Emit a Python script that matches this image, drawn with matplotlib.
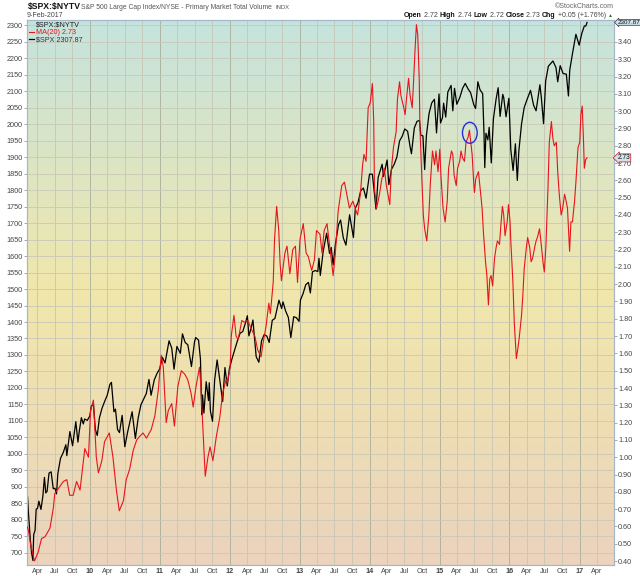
import matplotlib
matplotlib.use("Agg")
import matplotlib.pyplot as plt
import matplotlib.dates as mdates
from matplotlib.colors import LinearSegmentedColormap
from matplotlib.lines import Line2D
from matplotlib.patches import Ellipse
import numpy as np
import pandas as pd

plt.rcParams['font.family'] = ['Liberation Sans', 'DejaVu Sans']

# --- data ---
spx_dates = [
    '2009-02-09', '2009-02-13', '2009-02-23', '2009-03-02', '2009-03-09', '2009-03-13', '2009-03-20',
    '2009-03-26', '2009-04-02', '2009-04-09', '2009-04-20', '2009-04-30', '2009-05-08', '2009-05-15',
    '2009-05-22', '2009-06-01', '2009-06-12', '2009-06-23', '2009-07-02', '2009-07-10', '2009-07-17',
    '2009-07-31', '2009-08-14', '2009-08-28', '2009-09-02', '2009-09-18', '2009-10-02', '2009-10-19',
    '2009-10-30', '2009-11-06', '2009-11-17', '2009-11-27', '2009-12-04', '2009-12-18', '2009-12-31',
    '2010-01-08', '2010-01-19', '2010-01-29', '2010-02-08', '2010-02-19', '2010-03-05', '2010-03-19',
    '2010-04-01', '2010-04-15', '2010-04-23', '2010-05-06', '2010-05-14', '2010-05-25', '2010-06-04',
    '2010-06-18', '2010-07-02', '2010-07-16', '2010-07-30', '2010-08-09', '2010-08-26', '2010-09-10',
    '2010-09-24', '2010-10-08', '2010-10-22', '2010-11-05', '2010-11-16', '2010-12-03', '2010-12-17',
    '2010-12-31', '2011-01-14', '2011-01-28', '2011-02-18', '2011-03-04', '2011-03-16', '2011-03-31',
    '2011-04-18', '2011-04-29', '2011-05-13', '2011-05-27', '2011-06-15', '2011-07-01', '2011-07-07',
    '2011-07-22', '2011-08-01', '2011-08-08', '2011-08-12', '2011-08-19', '2011-08-31', '2011-09-12',
    '2011-09-16', '2011-09-22', '2011-10-03', '2011-10-14', '2011-10-27', '2011-11-09', '2011-11-25',
    '2011-12-07', '2011-12-19', '2011-12-30', '2012-01-13', '2012-01-27', '2012-02-10', '2012-02-24',
    '2012-03-09', '2012-03-23', '2012-04-02', '2012-04-10', '2012-04-20', '2012-05-01', '2012-05-18',
    '2012-06-01', '2012-06-15', '2012-06-29', '2012-07-13', '2012-07-25', '2012-08-10', '2012-08-24',
    '2012-09-14', '2012-09-28', '2012-10-05', '2012-10-19', '2012-11-02', '2012-11-15', '2012-11-30',
    '2012-12-14', '2012-12-28', '2013-01-04', '2013-01-18', '2013-02-01', '2013-02-15', '2013-02-25',
    '2013-03-08', '2013-03-22', '2013-04-05', '2013-04-11', '2013-04-18', '2013-05-03', '2013-05-21',
    '2013-06-05', '2013-06-14', '2013-06-24', '2013-07-05', '2013-07-22', '2013-08-02', '2013-08-16',
    '2013-08-30', '2013-09-18', '2013-10-08', '2013-10-18', '2013-11-01', '2013-11-15', '2013-11-29',
    '2013-12-13', '2013-12-31', '2014-01-15', '2014-02-03', '2014-02-14', '2014-03-07', '2014-03-14',
    '2014-04-02', '2014-04-11', '2014-04-25', '2014-05-09', '2014-05-23', '2014-06-06', '2014-06-20',
    '2014-07-03', '2014-07-18', '2014-07-31', '2014-08-07', '2014-08-22', '2014-09-05', '2014-09-18',
    '2014-09-25', '2014-10-06', '2014-10-15', '2014-10-24', '2014-11-07', '2014-11-21', '2014-12-05',
    '2014-12-16', '2014-12-29', '2015-01-06', '2015-01-16', '2015-01-22', '2015-02-02', '2015-02-13',
    '2015-03-02', '2015-03-11', '2015-03-20', '2015-04-01', '2015-04-17', '2015-05-01', '2015-05-15',
    '2015-05-29', '2015-06-12', '2015-06-29', '2015-07-08', '2015-07-20', '2015-07-31', '2015-08-14',
    '2015-08-21', '2015-08-25', '2015-08-31', '2015-09-10', '2015-09-17', '2015-09-28', '2015-10-09',
    '2015-10-23', '2015-11-03', '2015-11-13', '2015-11-27', '2015-12-02', '2015-12-14', '2015-12-29',
    '2016-01-08', '2016-01-20', '2016-02-01', '2016-02-11', '2016-02-19', '2016-03-04', '2016-03-18',
    '2016-04-01', '2016-04-20', '2016-05-06', '2016-05-19', '2016-06-08', '2016-06-16', '2016-06-27',
    '2016-07-08', '2016-07-22', '2016-08-15', '2016-08-31', '2016-09-09', '2016-09-22', '2016-10-07',
    '2016-10-24', '2016-11-04', '2016-11-11', '2016-11-25', '2016-12-13', '2016-12-30', '2017-01-13',
    '2017-01-26', '2017-02-03', '2017-02-09',
]
spx_close = [
    870, 826, 743, 700, 677, 756, 768,
    833, 835, 857, 832, 873, 929, 882,
    887, 942, 946, 895, 896, 879, 940,
    987, 1004, 1028, 995, 1068, 1025, 1098,
    1036, 1069, 1110, 1091, 1106, 1102, 1115,
    1145, 1150, 1074, 1056, 1109, 1139, 1160,
    1178, 1211, 1217, 1128, 1136, 1074, 1065,
    1117, 1022, 1065, 1102, 1128, 1047, 1110,
    1149, 1166, 1183, 1226, 1178, 1225, 1244,
    1258, 1293, 1276, 1343, 1321, 1257, 1326,
    1305, 1364, 1338, 1331, 1265, 1340, 1353,
    1345, 1287, 1119, 1179, 1124, 1219, 1162,
    1216, 1130, 1099, 1224, 1285, 1229, 1159,
    1262, 1206, 1258, 1289, 1316, 1343, 1366,
    1371, 1397, 1419, 1358, 1378, 1406, 1295,
    1278, 1343, 1362, 1357, 1338, 1405, 1411,
    1466, 1441, 1461, 1433, 1414, 1353, 1416,
    1413, 1402, 1466, 1486, 1513, 1520, 1488,
    1552, 1556, 1553, 1593, 1541, 1614, 1669,
    1608, 1626, 1573, 1632, 1695, 1709, 1655,
    1633, 1725, 1656, 1745, 1762, 1798, 1806,
    1775, 1848, 1848, 1742, 1838, 1878, 1841,
    1891, 1816, 1863, 1878, 1900, 1949, 1963,
    1985, 1978, 1931, 1910, 1988, 2008, 2011,
    1966, 1964, 1862, 1964, 2032, 2064, 2075,
    1973, 2091, 2003, 2019, 2063, 2021, 2097,
    2117, 2040, 2108, 2060, 2081, 2108, 2123,
    2107, 2095, 2058, 2047, 2128, 2104, 2092,
    1971, 1868, 1972, 1952, 1990, 1882, 2015,
    2075, 2110, 2023, 2090, 2080, 2022, 2078,
    1922, 1859, 1940, 1829, 1918, 2000, 2050,
    2073, 2102, 2057, 2040, 2119, 2077, 2001,
    2130, 2175, 2191, 2171, 2128, 2177, 2153,
    2151, 2085, 2164, 2213, 2272, 2239, 2275,
    2297, 2297, 2307.87,
]

ma_dates = [
    '2009-02-06', '2009-02-13', '2009-02-24', '2009-03-17', '2009-04-05', '2009-04-23', '2009-05-11',
    '2009-06-06', '2009-06-24', '2009-07-01', '2009-07-27', '2009-08-15', '2009-09-02', '2009-09-17',
    '2009-10-05', '2009-10-23', '2009-11-10', '2009-12-05', '2009-12-24', '2010-01-04', '2010-01-19',
    '2010-02-03', '2010-02-14', '2010-03-04', '2010-03-18', '2010-04-12', '2010-05-01', '2010-05-19',
    '2010-06-03', '2010-06-25', '2010-07-09', '2010-07-27', '2010-08-15', '2010-09-02', '2010-09-17',
    '2010-10-05', '2010-10-23', '2010-11-17', '2010-12-06', '2010-12-24', '2011-01-08', '2011-01-19',
    '2011-02-03', '2011-02-14', '2011-03-04', '2011-03-18', '2011-04-05', '2011-04-23', '2011-05-11',
    '2011-05-26', '2011-06-13', '2011-06-24', '2011-07-09', '2011-07-27', '2011-08-03', '2011-08-15',
    '2011-08-26', '2011-09-09', '2011-09-20', '2011-10-05', '2011-10-23', '2011-11-10', '2011-11-25',
    '2011-12-13', '2011-12-20', '2012-01-03', '2012-01-09', '2012-01-23', '2012-02-03', '2012-02-14',
    '2012-03-04', '2012-03-18', '2012-04-05', '2012-04-23', '2012-05-11', '2012-05-26', '2012-06-13',
    '2012-06-20', '2012-07-09', '2012-07-23', '2012-07-31', '2012-08-15', '2012-08-22', '2012-09-02',
    '2012-09-13', '2012-09-20', '2012-09-27', '2012-10-15', '2012-10-26', '2012-11-10', '2012-11-25',
    '2012-12-09', '2012-12-20', '2013-01-02', '2013-01-19', '2013-02-03', '2013-02-14', '2013-03-04',
    '2013-03-18', '2013-03-29', '2013-04-16', '2013-04-27', '2013-05-08', '2013-05-23', '2013-06-06',
    '2013-06-24', '2013-07-05', '2013-07-20', '2013-08-08', '2013-08-22', '2013-08-29', '2013-09-17',
    '2013-10-05', '2013-10-23', '2013-10-30', '2013-11-14', '2013-11-25', '2013-12-02', '2013-12-13',
    '2013-12-24', '2014-01-04', '2014-01-15', '2014-01-22', '2014-01-26', '2014-02-06', '2014-02-14',
    '2014-02-21', '2014-03-04', '2014-03-18', '2014-03-29', '2014-04-16', '2014-04-23', '2014-05-05',
    '2014-05-19', '2014-05-26', '2014-06-06', '2014-06-13', '2014-06-28', '2014-07-05', '2014-07-12',
    '2014-07-23', '2014-07-31', '2014-08-11', '2014-08-18', '2014-08-26', '2014-09-02', '2014-09-09',
    '2014-09-17', '2014-09-20', '2014-10-01', '2014-10-08', '2014-10-15', '2014-10-26', '2014-11-06',
    '2014-11-14', '2014-11-25', '2014-12-06', '2014-12-13', '2014-12-24', '2015-01-02', '2015-01-08',
    '2015-01-19', '2015-01-30', '2015-02-10', '2015-02-17', '2015-03-04', '2015-03-11', '2015-03-18',
    '2015-03-29', '2015-04-05', '2015-04-16', '2015-04-23', '2015-05-01', '2015-05-11', '2015-05-19',
    '2015-05-30', '2015-06-06', '2015-06-13', '2015-06-20', '2015-06-28', '2015-07-02', '2015-07-09',
    '2015-07-23', '2015-07-31', '2015-08-11', '2015-08-18', '2015-08-29', '2015-09-05', '2015-09-13',
    '2015-09-20', '2015-09-27', '2015-10-05', '2015-10-15', '2015-10-23', '2015-10-30', '2015-11-10',
    '2015-11-17', '2015-11-25', '2015-12-02', '2015-12-09', '2015-12-20', '2015-12-27', '2016-01-04',
    '2016-01-08', '2016-01-19', '2016-01-26', '2016-02-06', '2016-02-14', '2016-02-21', '2016-03-04',
    '2016-03-11', '2016-03-18', '2016-03-29', '2016-04-05', '2016-04-16', '2016-04-23', '2016-05-01',
    '2016-05-11', '2016-05-19', '2016-05-26', '2016-06-06', '2016-06-13', '2016-06-24', '2016-07-01',
    '2016-07-09', '2016-07-20', '2016-07-27', '2016-08-07', '2016-08-15', '2016-08-22', '2016-09-02',
    '2016-09-09', '2016-09-17', '2016-09-27', '2016-10-05', '2016-10-15', '2016-10-23', '2016-10-30',
    '2016-11-10', '2016-11-17', '2016-11-25', '2016-12-06', '2016-12-13', '2016-12-24', '2017-01-02',
    '2017-01-08', '2017-01-15', '2017-01-22', '2017-01-26', '2017-02-02', '2017-02-09',
]
ma_vals = [
    0.60, 0.58, 0.50, 0.40, 0.45, 0.53, 0.54,
    0.59, 0.71, 0.79, 0.83, 0.86, 0.87, 0.78,
    0.78, 0.86, 0.81, 1.05, 1.00, 1.27, 1.33,
    1.00, 0.91, 0.98, 1.09, 1.14, 1.00, 0.81,
    0.69, 0.75, 0.87, 0.93, 1.04, 1.10, 1.12,
    1.14, 1.11, 1.16, 1.24, 1.39, 1.59, 1.52,
    1.20, 1.27, 1.31, 1.18, 1.41, 1.50, 1.48,
    1.45, 1.37, 1.29, 1.41, 1.52, 1.41, 1.14,
    0.89, 1.00, 1.06, 0.98, 1.12, 1.23, 1.37,
    1.45, 1.43, 1.52, 1.70, 1.82, 1.70, 1.68,
    1.79, 1.78, 1.79, 1.74, 1.70, 1.62, 1.58,
    1.64, 1.76, 1.89, 1.83, 2.01, 2.26, 2.45,
    2.31, 2.12, 2.02, 2.18, 2.22, 2.06, 2.20,
    2.22, 2.01, 2.26, 2.35, 2.18, 2.16, 2.08,
    2.14, 2.31, 2.29, 2.18, 2.31, 2.35, 2.22,
    2.05, 2.17, 2.42, 2.57, 2.59, 2.55, 2.44,
    2.48, 2.42, 2.40, 2.53, 2.69, 2.75, 2.71,
    3.02, 3.05, 3.16, 2.94, 2.55, 2.44, 2.48,
    2.52, 2.60, 2.67, 2.57, 2.46, 2.65, 2.79,
    2.88, 3.07, 3.17, 3.09, 3.02, 2.98, 3.07,
    3.19, 3.09, 3.02, 3.17, 3.36, 3.50, 3.44,
    3.17, 2.92, 2.59, 2.40, 2.32, 2.25, 2.40,
    2.59, 2.77, 2.69, 2.77, 2.65, 2.78, 2.63,
    2.44, 2.36, 2.48, 2.67, 2.77, 2.75, 2.63,
    2.57, 2.67, 2.71, 2.77, 2.73, 2.71, 2.82,
    2.85, 2.89, 2.82, 2.75, 2.59, 2.53, 2.61,
    2.65, 2.56, 2.44, 2.30, 2.13, 2.05, 1.88,
    2.03, 2.05, 1.99, 2.15, 2.21, 2.25, 2.23,
    2.34, 2.45, 2.40, 2.28, 2.36, 2.46, 2.36,
    2.25, 2.01, 1.78, 1.57, 1.63, 1.69, 1.82,
    1.94, 2.09, 2.21, 2.27, 2.21, 2.13, 2.15,
    2.21, 2.25, 2.27, 2.32, 2.25, 2.13, 2.07,
    2.21, 2.55, 2.82, 2.94, 2.84, 2.80, 2.82,
    2.65, 2.52, 2.40, 2.44, 2.52, 2.48, 2.44,
    2.19, 2.36, 2.36, 2.48, 2.59, 2.79, 2.82,
    2.98, 3.03, 2.82, 2.67, 2.72, 2.73,
]

spx_last = 2307.87
ma_last = 2.73
circled_date = '2015-06-08'
circled_val = 2.875

left_ticks = list(range(700, 2301, 50))
right_ticks = [round(0.4 + 0.1 * i, 2) for i in range(31)]
quarter_ticks = pd.date_range('2009-04-01', '2017-04-01', freq='QS-JAN')

spx_x = pd.to_datetime(spx_dates)
ma_x = pd.to_datetime(ma_dates)

W, H = 640, 576
fig = plt.figure(figsize=(W / 100, H / 100), dpi=100)
rect = [27 / W, 11 / H, 587 / W, 545 / H]

# gradient background
bg = fig.add_axes(rect, zorder=0)
cmap = LinearSegmentedColormap.from_list(
    'sc', [(0.0, '#c5e3de'), (0.5, '#f1e7ab'), (1.0, '#ebd3bd')])
bg.imshow(np.linspace(0, 1, 256).reshape(-1, 1), cmap=cmap, aspect='auto',
          extent=[0, 1, 0, 1])
bg.axis('off')

ax = fig.add_axes(rect, zorder=1)
ax.patch.set_alpha(0)
ax2 = ax.twinx()

ax.plot(spx_x, spx_close, color='black', lw=0.9, zorder=3)
red_line, = ax2.plot(ma_x, ma_vals, color='#e8131b', lw=0.8, zorder=3)

ax.set_xlim(pd.Timestamp('2009-02-06'), pd.Timestamp('2017-06-30'))
ax.set_ylim(663.6, 2315.2)
ax2.set_ylim(0.377, 3.527)

ax.set_yticks(left_ticks)
ax.set_yticklabels([str(v) for v in left_ticks])
ax2.set_yticks(right_ticks)
ax2.set_yticklabels(['%.2f' % v for v in right_ticks])

ax.set_xticks(quarter_ticks)
xlabels = []
for d in quarter_ticks:
    xlabels.append('%02d' % (d.year % 100) if d.month == 1 else d.strftime('%b'))
ax.set_xticklabels(xlabels)
for lbl, d in zip(ax.get_xticklabels(), quarter_ticks):
    if d.month == 1:
        lbl.set_fontweight('bold')
        lbl.set_color('#111111')

ax.grid(axis='y', color='#c9c8b8', lw=0.6)
ax.grid(axis='x', color='#c6c6b4', lw=0.6)
for gl, d in zip(ax.get_xgridlines(), quarter_ticks):
    if d.month == 1:
        gl.set_color('#a9ae9a')
ax.set_axisbelow(True)

ax.tick_params(axis='y', length=2, width=0.5, color='#7a8a99', labelsize=5.2,
               labelcolor='#444444', pad=1)
ax2.tick_params(axis='y', length=2, width=0.5, color='#7a8a99', labelsize=5.2,
                labelcolor='#444444', pad=1)
ax.tick_params(axis='x', length=0, labelsize=5.2, labelcolor='#444444', pad=2.5)

for a in (ax, ax2):
    for s in a.spines.values():
        s.set_color('#a6b8c8')
        s.set_linewidth(0.8)

# circled peak
ell = Ellipse((mdates.date2num(pd.Timestamp(circled_date)), circled_val),
              width=77, height=0.121, fill=False, ec='#1f2fe0', lw=1.0, zorder=4)
ax2.add_patch(ell)

# last-value tags on the right axis
spx_on_right = ax2.transData.inverted().transform(ax.transData.transform((0, spx_last)))[1]
ax2.annotate('%.2f' % spx_last, xy=(1.0, spx_on_right), xycoords=('axes fraction', 'data'),
             xytext=(2.5, 0), textcoords='offset points', ha='left', va='center', fontsize=4.5,
             color='#111111',
             bbox=dict(boxstyle='larrow,pad=0.06', fc='#cfe2ee', ec='#333333', lw=0.5),
             annotation_clip=False)
ax2.annotate('%.2f' % ma_last, xy=(1.0, ma_last), xycoords=('axes fraction', 'data'),
             xytext=(2.5, 0), textcoords='offset points', ha='left', va='center', fontsize=4.8,
             color='#111111',
             bbox=dict(boxstyle='larrow,pad=0.08', fc='#cfe2ee', ec='#d01010', lw=0.5),
             annotation_clip=False)

# legend
handles = [Line2D([], [], color='none'), red_line, Line2D([], [], color='black', lw=0.9)]
labels = [r'\$SPX:\$NYTV', 'MA(20) %.2f' % ma_last, r'\$SPX %.2f' % spx_last]
leg = ax2.legend(handles, labels, loc='upper left', frameon=False, fontsize=5.2,
                 handlelength=0.7, handletextpad=0.3, labelspacing=0.05,
                 borderaxespad=0.15, borderpad=0.1)
for t, c in zip(leg.get_texts(), ['#222222', '#e8131b', '#333333']):
    t.set_color(c)


def fx(px):
    return px / W


def fy(py):
    return 1 - py / H


# header (left)
fig.text(fx(28), fy(9), r'\$SPX:\$NYTV', fontsize=6.2, fontweight='bold',
         color='#111111', va='baseline')
sub = fig.text(fx(81), fy(9), 'S&P 500 Large Cap Index/NYSE - Primary Market Total Volume',
               fontsize=4.9, color='#555555', va='baseline')
indx = fig.text(0, fy(9), 'INDX', fontsize=4.2, color='#555555', va='baseline')
fig.text(fx(27), fy(17), '9-Feb-2017', fontsize=5, color='#444444', va='baseline')
fig.text(fx(614), fy(8), '\u00a9StockCharts.com', fontsize=5, color='#666666',
         ha='right', va='baseline')

# header (right): quote line built piece by piece
parts = [('Open', True), (' 2.72 ', False), ('High', True), (' 2.74 ', False),
         ('Low', True), (' 2.72 ', False), ('Close', True), (' 2.73 ', False),
         ('Chg', True), (' +0.05 (+1.76%) ', False), ('\u25b2', False)]
chain = []
for txt, bold in parts:
    is_arrow = txt == '\u25b2'
    col = '#2a7a2a' if is_arrow else ('#111111' if bold else '#444444')
    chain.append(fig.text(0, fy(17), txt, fontsize=3.6 if is_arrow else 5,
                          fontweight='bold' if bold else 'normal', color=col,
                          va='baseline'))

fig.canvas.draw()
renderer = fig.canvas.get_renderer()
indx.set_position(((sub.get_window_extent(renderer).x1 + 4) / W, fy(9)))
widths = [t.get_window_extent(renderer).width for t in chain]
x_cur = 613 - sum(widths)
for t, w in zip(chain, widths):
    t.set_position((x_cur / W, fy(17)))
    x_cur += w

fig.savefig('out.png', dpi=100)
